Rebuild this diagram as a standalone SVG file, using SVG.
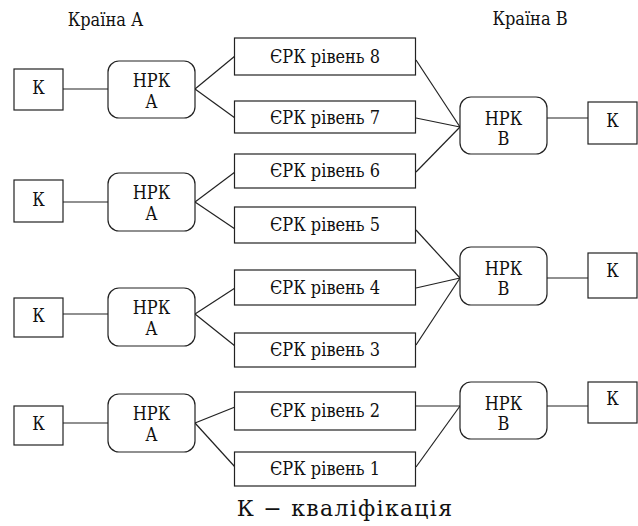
<svg xmlns="http://www.w3.org/2000/svg" width="638" height="526" viewBox="0 0 638 526">
<style>
.box{fill:#fff;stroke:#222;stroke-width:1.2}
.t{font-family:'DejaVu Serif Condensed','DejaVu Serif',serif;font-stretch:condensed;font-size:18px;fill:#111;text-anchor:middle}
.cap{font-family:'DejaVu Serif',serif;font-stretch:normal;font-size:22px;letter-spacing:1.3px;fill:#111;text-anchor:middle}
.c line{stroke:#222;stroke-width:1.2}
</style>
<rect width="638" height="526" fill="#fff"/>
<text class="t" x="105.5" y="26">Країна А</text>
<text class="t" x="530" y="25">Країна В</text>
<g class="c" id="connectors">
<line x1="63" y1="89" x2="108" y2="89"/>
<line x1="195" y1="89" x2="235" y2="56"/>
<line x1="195" y1="89" x2="235" y2="118"/>
<line x1="63" y1="202" x2="108" y2="202"/>
<line x1="195" y1="202" x2="235" y2="172"/>
<line x1="195" y1="202" x2="235" y2="229"/>
<line x1="63" y1="314" x2="108" y2="314"/>
<line x1="195" y1="314" x2="235" y2="288"/>
<line x1="195" y1="314" x2="235" y2="346"/>
<line x1="63" y1="423" x2="108" y2="423"/>
<line x1="195" y1="423" x2="235" y2="407"/>
<line x1="195" y1="423" x2="235" y2="467"/>
<line x1="416" y1="60" x2="460" y2="127"/>
<line x1="416" y1="118" x2="460" y2="127"/>
<line x1="416" y1="172" x2="460" y2="127"/>
<line x1="547" y1="118" x2="588" y2="118"/>
<line x1="416" y1="230" x2="460" y2="278"/>
<line x1="416" y1="288" x2="460" y2="278"/>
<line x1="416" y1="345" x2="460" y2="278"/>
<line x1="547" y1="278" x2="588" y2="278"/>
<line x1="416" y1="406" x2="460" y2="406"/>
<line x1="416" y1="467" x2="460" y2="406"/>
<line x1="547" y1="406" x2="588" y2="406"/>
</g>
<g id="kA1"><rect class="box" x="14" y="69" width="49" height="41"/><text class="t" x="38.5" y="94">К</text></g>
<g id="kA2"><rect class="box" x="14" y="180" width="49" height="42"/><text class="t" x="38.5" y="206">К</text></g>
<g id="kA3"><rect class="box" x="14" y="298" width="49" height="39"/><text class="t" x="38.5" y="322">К</text></g>
<g id="kA4"><rect class="box" x="14" y="406" width="49" height="39"/><text class="t" x="38.5" y="430">К</text></g>
<g id="nrkA1"><rect class="box" x="108" y="61" width="87" height="57" rx="11"/><text class="t" x="151.5" y="87">НРК</text><text class="t" x="151.5" y="108">А</text></g>
<g id="nrkA2"><rect class="box" x="108" y="173" width="87" height="58" rx="11"/><text class="t" x="151.5" y="199">НРК</text><text class="t" x="151.5" y="220">А</text></g>
<g id="nrkA3"><rect class="box" x="108" y="288" width="87" height="58" rx="11"/><text class="t" x="151.5" y="314">НРК</text><text class="t" x="151.5" y="335">А</text></g>
<g id="nrkA4"><rect class="box" x="108" y="394" width="87" height="58" rx="11"/><text class="t" x="151.5" y="420">НРК</text><text class="t" x="151.5" y="441">А</text></g>
<g id="erk8"><rect class="box" x="234.5" y="38" width="181" height="37"/><text class="t" x="325" y="63">ЄРК рівень 8</text></g>
<g id="erk7"><rect class="box" x="234.5" y="101" width="181" height="32"/><text class="t" x="325" y="124">ЄРК рівень 7</text></g>
<g id="erk6"><rect class="box" x="234.5" y="154" width="181" height="34"/><text class="t" x="325" y="177">ЄРК рівень 6</text></g>
<g id="erk5"><rect class="box" x="234.5" y="207" width="181" height="36"/><text class="t" x="325" y="231">ЄРК рівень 5</text></g>
<g id="erk4"><rect class="box" x="234.5" y="270" width="181" height="35"/><text class="t" x="325" y="294">ЄРК рівень 4</text></g>
<g id="erk3"><rect class="box" x="234.5" y="333" width="181" height="34"/><text class="t" x="325" y="356">ЄРК рівень 3</text></g>
<g id="erk2"><rect class="box" x="234.5" y="392" width="181" height="38"/><text class="t" x="325" y="417">ЄРК рівень 2</text></g>
<g id="erk1"><rect class="box" x="234.5" y="452" width="181" height="34"/><text class="t" x="325" y="475">ЄРК рівень 1</text></g>
<g id="nrkB1"><rect class="box" x="460" y="97" width="87" height="57" rx="11"/><text class="t" x="503.5" y="125">НРК</text><text class="t" x="503.5" y="145">В</text></g>
<g id="nrkB2"><rect class="box" x="460" y="247" width="87" height="58" rx="11"/><text class="t" x="503.5" y="275">НРК</text><text class="t" x="503.5" y="295">В</text></g>
<g id="nrkB3"><rect class="box" x="460" y="382" width="87" height="57" rx="11"/><text class="t" x="503.5" y="410">НРК</text><text class="t" x="503.5" y="430">В</text></g>
<g id="kB1"><rect class="box" x="588" y="102" width="49" height="42"/><text class="t" x="612.5" y="127">К</text></g>
<g id="kB2"><rect class="box" x="588" y="253" width="49" height="45"/><text class="t" x="612.5" y="277">К</text></g>
<g id="kB3"><rect class="box" x="588" y="382" width="49" height="41"/><text class="t" x="612.5" y="405">К</text></g>
<text class="cap" x="345" y="516">К − кваліфікація</text>
</svg>
